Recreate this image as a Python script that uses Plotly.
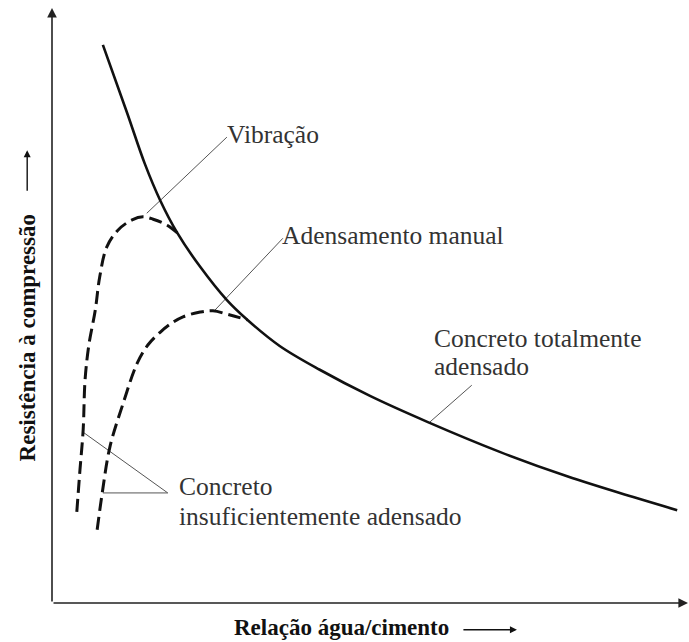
import plotly.graph_objects as go

# Fully compacted concrete curve (schematic units)
full_x = [8.0, 11.8, 14.6, 17.0, 19.7, 23.3, 27.5, 30.7, 35.8, 42.1, 50.0, 59.1, 70.4, 81.0, 91.4, 98.3]
full_y = [93.8, 82.4, 73.8, 67.7, 62.2, 56.5, 50.9, 47.6, 43.2, 39.2, 34.8, 30.4, 25.4, 21.3, 17.8, 15.6]

# Vibration curve
vib_x = [3.9, 4.4, 4.9, 5.2, 5.8, 6.8, 7.5, 8.6, 10.4, 12.6, 14.3, 15.9, 18.1, 19.7]
vib_y = [15.3, 22.4, 29.1, 37.5, 43.4, 49.2, 54.8, 59.8, 62.7, 64.4, 64.9, 64.5, 63.5, 62.2]

# Hand compaction curve
man_x = [7.1, 7.9, 9.1, 11.2, 13.4, 15.1, 17.0, 18.9, 20.6, 23.3, 25.3, 28.0, 30.7]
man_y = [12.3, 18.5, 26.2, 33.6, 40.3, 43.4, 45.5, 47.1, 48.1, 48.9, 49.1, 48.4, 47.6]

# Label lines (one entry per text line) and leader lines
label_texts = ["Vibração", "Adensamento manual", "Concreto totalmente", "adensado",
               "Concreto", "insuficientemente adensado"]
label_x = [27.2, 35.9, 59.8, 59.8, 19.7, 19.7]
label_y = [78.7, 61.8, 44.4, 39.8, 19.5, 14.5]
leader_x = [[14.9, 27.5], [25.6, 36.3], [59.4, 66.0], [4.9, 18.2, 8.0]]
leader_y = [[65.5, 78.3], [49.2, 61.3], [30.4, 36.6], [28.7, 18.5, 18.5]]

x_title = "Relação água/cimento"
y_title = "Resistência à compressão"

fig = go.Figure()

for lx, ly in zip(leader_x, leader_y):
    fig.add_trace(go.Scatter(x=lx, y=ly, mode="lines",
                             line=dict(color="#555555", width=1), hoverinfo="skip"))

fig.add_trace(go.Scatter(x=vib_x, y=vib_y, mode="lines",
                         line=dict(color="#111111", width=3, dash="13px,6px", shape="spline")))
fig.add_trace(go.Scatter(x=man_x, y=man_y, mode="lines",
                         line=dict(color="#111111", width=3, dash="13px,6px", shape="spline")))
fig.add_trace(go.Scatter(x=full_x, y=full_y, mode="lines",
                         line=dict(color="#111111", width=2.6, shape="spline")))

serif = "Liberation Serif"
for t, x, y in zip(label_texts, label_x, label_y):
    fig.add_annotation(x=x, y=y, text=t, showarrow=False, xanchor="left", yanchor="middle",
                       align="left", font=dict(family=serif, size=25.5, color="#333333"))

# axes with arrowheads
fig.add_annotation(x=0, y=100, ax=0, ay=0, xref="x", yref="y", axref="x", ayref="y",
                   showarrow=True, arrowhead=2, arrowsize=1.2, arrowwidth=1.6, arrowcolor="#222222", text="")
fig.add_annotation(x=100, y=0, ax=0, ay=0, xref="x", yref="y", axref="x", ayref="y",
                   showarrow=True, arrowhead=2, arrowsize=1.2, arrowwidth=1.6, arrowcolor="#222222", text="")

# axis titles
fig.add_annotation(xref="paper", yref="paper", x=0.455, y=-0.042, text="<b>" + x_title + "</b>",
                   xanchor="center", yanchor="middle",
                   showarrow=False, font=dict(family=serif, size=23, color="#111111"))
fig.add_annotation(xref="paper", yref="paper", x=0.731, y=-0.045, ax=-55, ay=0, text="",
                   showarrow=True, arrowhead=2, arrowsize=1, arrowwidth=1.4, arrowcolor="#111111")
fig.add_annotation(xref="paper", yref="paper", x=-0.039, y=0.445, text="<b>" + y_title + "</b>",
                   xanchor="center", yanchor="middle",
                   textangle=-90, showarrow=False, font=dict(family=serif, size=23, color="#111111"))
fig.add_annotation(xref="paper", yref="paper", x=-0.039, y=0.761, ax=0, ay=42, text="",
                   showarrow=True, arrowhead=2, arrowsize=1, arrowwidth=1.4, arrowcolor="#111111")

fig.update_xaxes(range=[0, 100], visible=False)
fig.update_yaxes(range=[0, 100], visible=False)
fig.update_layout(width=689, height=642, margin=dict(l=52, r=1, t=8, b=39),
                  plot_bgcolor="white", paper_bgcolor="white", showlegend=False)

fig.write_html("out.html", config={"displayModeBar": False},
               post_script="document.body.style.margin='0';document.body.style.overflow='hidden';")
